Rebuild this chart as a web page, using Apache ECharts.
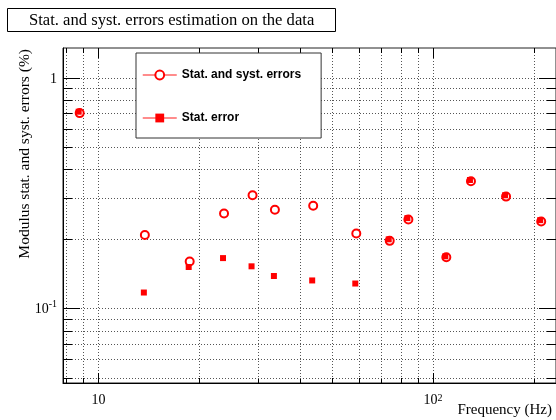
<!DOCTYPE html>
<html><head><meta charset="utf-8">
<script src="https://cdn.jsdelivr.net/npm/echarts@6/dist/echarts.min.js"></script>
<style>html,body{margin:0;padding:0;background:#fff}#c{width:556px;height:420px}</style>
</head><body><div id="c"></div>
<script>
// ---- data ----
const frequencies = [8.73, 13.67, 18.61, 23.57, 28.68, 33.45, 43.53, 58.56, 73.7, 83.8, 108.8, 128.9, 164.1, 209.0];
const statSyst   = [0.709, 0.210, 0.161, 0.260, 0.312, 0.270, 0.281, 0.213, 0.198, 0.245, 0.168, 0.359, 0.308, 0.240];
const statOnly   = [0.712, 0.117, 0.151, 0.165, 0.152, 0.138, 0.132, 0.128, 0.199, 0.246, 0.168, 0.360, 0.309, 0.241];
const seriesNames = ['Stat. and syst. errors', 'Stat. error'];
const xGridValues = [8, 9, 10, 20, 30, 40, 50, 60, 70, 80, 90, 100, 200];
const yGridValues = [0.05, 0.06, 0.07, 0.08, 0.09, 0.1, 0.2, 0.3, 0.4, 0.5, 0.6, 0.7, 0.8, 0.9, 1];
const xMajor = [10, 100];
const yMajor = [0.1, 1];
const X_MIN = 7.837, X_MAX = 233;
const Y_MIN = 0.0474, Y_MAX = 1.345;
const titleText = 'Stat. and syst. errors estimation on the data';
const xTitle = 'Frequency (Hz)';
const yTitle = 'Modulus stat. and syst. errors (%)';

function isPow(v) { const l = Math.log10(v); return Math.abs(l - Math.round(l)) < 1e-6; }
function near(a, b) { return Math.abs(a - b) / b < 1e-6; }

const chart = echarts.init(document.getElementById('c'), null, {renderer: 'canvas'});
const serif = 'Liberation Serif';
const GRID_COLOR = '#555';

const option = {
  animation: false,
  backgroundColor: '#fff',
  title: {
    text: titleText, left: 7, top: 8, padding: [4, 21, 3, 22],
    borderColor: '#000', borderWidth: 1,
    textStyle: {fontFamily: serif, fontSize: 16.6, fontWeight: 'normal', color: '#000'}
  },
  legend: {
    orient: 'vertical', left: 136, top: 53, padding: [16, 20, 14, 6], itemGap: 31,
    itemWidth: 34, itemHeight: 11, selectedMode: false,
    backgroundColor: '#fff', borderColor: '#333', borderWidth: 1,
    textStyle: {fontFamily: 'Liberation Sans', fontWeight: 'bold', fontSize: 12, color: '#000'},
    lineStyle: {opacity: 1, width: 1.5, color: '#ff6666'},
    data: [{name: seriesNames[0]}, {name: seriesNames[1]}]
  },
  grid: {left: 63, top: 48, width: 497, height: 335, show: true, borderColor: '#222', borderWidth: 1, backgroundColor: 'transparent'},
  xAxis: {
    type: 'log', logBase: 10, min: X_MIN, max: X_MAX,
    axisLine: {show: true, lineStyle: {color: '#000', width: 1}},
    axisTick: {show: false}, splitLine: {show: false},
    axisLabel: {
      margin: 10, showMinLabel: false, showMaxLabel: false,
      formatter: function (v) {
        if (!isPow(v)) return '';
        const e = Math.round(Math.log10(v));
        if (e === 1) return '{n|10}';
        return '{n|10}{s|' + e + '}';
      },
      rich: {n: {fontFamily: serif, fontSize: 14, color: '#000'}, s: {fontFamily: serif, fontSize: 10, color: '#000', verticalAlign: 'top'}}
    }
  },
  yAxis: {
    type: 'log', logBase: 10, min: Y_MIN, max: Y_MAX,
    axisLine: {show: true, lineStyle: {color: '#000', width: 1}},
    axisTick: {show: false}, splitLine: {show: false},
    axisLabel: {
      margin: 6, showMinLabel: false, showMaxLabel: false,
      formatter: function (v) {
        if (!isPow(v)) return '';
        const e = Math.round(Math.log10(v));
        if (e === 0) return '{n|1}';
        return '{n|10}{s|' + e + '}';
      },
      rich: {n: {fontFamily: serif, fontSize: 14, color: '#000', padding: [3, 0, 0, 0]}, s: {fontFamily: serif, fontSize: 10, color: '#000', verticalAlign: 'top'}}
    }
  },
  graphic: [
    {type: 'text', x: 25, y: 49, rotation: Math.PI / 2, style: {text: yTitle, font: '15.5px "Liberation Serif"', fill: '#000', align: 'right', verticalAlign: 'middle'}},
    {type: 'text', x: 552, y: 410, style: {text: xTitle, font: '15px "Liberation Serif"', fill: '#000', align: 'right', verticalAlign: 'middle'}}
  ],
  series: [
    {
      type: 'custom', silent: true, clip: false, z: 1,
      data: xGridValues.map(v => [v, 1]),
      renderItem: function (params, api) {
        const v = api.value(0);
        const pb = api.coord([v, Y_MIN]), pt = api.coord([v, Y_MAX]);
        const x = Math.round(pb[0]) + 0.5;
        const L = xMajor.some(m => near(v, m)) ? 10 : 5;
        return {type: 'group', children: [
          {type: 'line', shape: {x1: x, y1: pb[1], x2: x, y2: pt[1]}, style: {stroke: GRID_COLOR, lineWidth: 1, lineDash: [1, 2]}},
          {type: 'line', shape: {x1: x, y1: pb[1], x2: x, y2: pb[1] - L}, style: {stroke: '#000', lineWidth: 1}},
          {type: 'line', shape: {x1: x, y1: pt[1], x2: x, y2: pt[1] + L}, style: {stroke: '#000', lineWidth: 1}}
        ]};
      }
    },
    {
      type: 'custom', silent: true, clip: false, z: 1,
      data: yGridValues.map(v => [10, v]),
      renderItem: function (params, api) {
        const v = api.value(1);
        const pl = api.coord([X_MIN, v]), pr = api.coord([X_MAX, v]);
        const y = Math.round(pl[1]) + 0.5;
        const L = yMajor.some(m => near(v, m)) ? 17 : 9;
        return {type: 'group', children: [
          {type: 'line', shape: {x1: pl[0], y1: y, x2: pr[0], y2: y}, style: {stroke: GRID_COLOR, lineWidth: 1, lineDash: [1, 2]}},
          {type: 'line', shape: {x1: pl[0], y1: y, x2: pl[0] + L, y2: y}, style: {stroke: '#000', lineWidth: 1}},
          {type: 'line', shape: {x1: pr[0], y1: y, x2: pr[0] - L, y2: y}, style: {stroke: '#000', lineWidth: 1}}
        ]};
      }
    },
    {
      name: seriesNames[0], type: 'line', z: 3,
      data: frequencies.map((f, i) => [f, statSyst[i]]),
      symbol: 'emptyCircle', symbolSize: 8, showSymbol: true, symbolOffset: [1, 1],
      lineStyle: {opacity: 0},
      itemStyle: {color: '#ff0000', borderColor: '#ff3333', borderWidth: 1.3},
      emphasis: {disabled: true}
    },
    {
      name: seriesNames[1], type: 'line', z: 4,
      data: frequencies.map((f, i) => [f, statOnly[i]]),
      symbol: 'rect', symbolSize: 6, showSymbol: true,
      lineStyle: {opacity: 0},
      itemStyle: {color: '#ff0000'},
      emphasis: {disabled: true}
    }
  ]
};
chart.setOption(option);
</script>
</body></html>
